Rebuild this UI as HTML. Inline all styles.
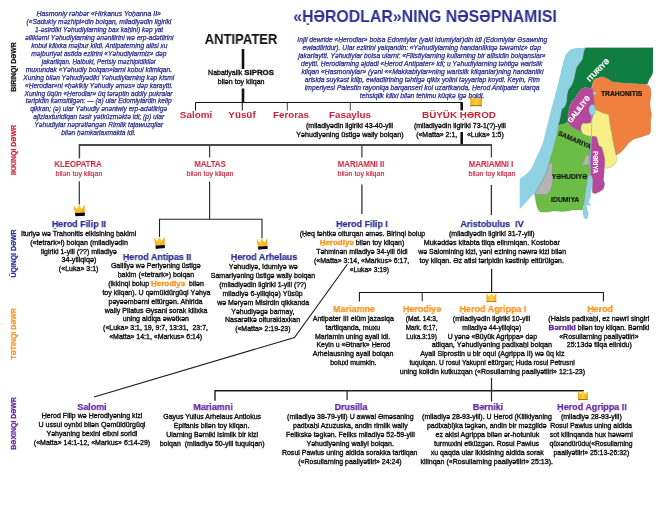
<!DOCTYPE html>
<html><head><meta charset="utf-8">
<style>
html,body{margin:0;padding:0;background:#fff;}
body{width:666px;height:507px;overflow:hidden;position:relative;font-family:"Liberation Sans",sans-serif;color:#111;}
.t{position:absolute;white-space:nowrap;text-align:center;will-change:transform;}
.o{color:#f7941d;font-weight:bold;font-size:1.14em;}
.p{color:#6424a0;font-weight:bold;font-size:1.15em;}
.lab{position:absolute;white-space:nowrap;font-weight:bold;transform-origin:0 0;will-change:transform;}
svg{position:absolute;left:0;top:0;will-change:transform;}
</style></head><body>

<svg width="666" height="507" viewBox="0 0 666 507"><defs><linearGradient id="cg" x1="0" y1="0" x2="1" y2="0"><stop offset="0" stop-color="#f0a81a"/><stop offset="0.5" stop-color="#fcc62a"/><stop offset="1" stop-color="#efa817"/></linearGradient><linearGradient id="cg2" x1="0" y1="0" x2="1" y2="0"><stop offset="0" stop-color="#f2ae12"/><stop offset="0.3" stop-color="#f9c21e"/><stop offset="0.55" stop-color="#fcd04a"/><stop offset="0.75" stop-color="#f7bd1a"/><stop offset="1" stop-color="#eda512"/></linearGradient></defs>
<polygon points="585.6,47.7 574.3,48.3 569.6,50 566,54.2 563.7,60.1 561.9,67.2 560.1,75.5 557.8,85 555.4,93.3 554,100 551.8,106.8 548.9,118.7 545.9,130.5 543,142.3 539.5,151 537,156 535,160.5 532.1,166.9 529.5,171 526.6,173.8 523,176.5 521,178 519.7,179.6 519.7,209.2 533.9,193.8 534.5,193.8 538.1,187.9 542.2,180.8 547,171.3 549.3,161.8 550.5,157.1 552.9,150 554.2,144.7 556.6,135.2 558.3,125.8 560.1,118.7 561.9,109.2 564.9,106.8 566.6,102.1 567.2,95 568.4,89.7 570.8,86.7 572.5,83.8 574.3,77.9 575.5,72 576.7,67.2 580.2,62.5 582.6,58.9 583.2,55.4 584.4,49.5 585.6,47.7" fill="#8fd2e4" stroke="none" stroke-width="0.3" stroke-linejoin="round"/>
<polygon points="585.6,47.7 653,47.7 653,72 651.8,75.5 648.8,80.2 647.7,84 644.7,84.4 636.4,83.8 624.6,83.2 612.8,82 606.8,78.5 602.1,76.7 595,79 593.3,80.8 592.1,85 591.5,88.5 588.5,87.9 585,87.3 580.8,89.7 577.9,93.3 575.5,98 572,100.9 569.6,106.8 568.4,112.8 567.8,122.2 563.7,124 558.3,125.2 560.1,118.7 561.9,109.2 564.9,106.8 566.6,102.1 567.2,95 568.4,89.7 570.8,86.7 572.5,83.8 574.3,77.9 575.5,72 576.7,67.2 580.2,62.5 582.6,58.9 583.2,55.4 584.4,49.5 585.6,47.7" fill="#0f7e40" stroke="#7a7a7a" stroke-width="0.3" stroke-linejoin="round"/>
<polygon points="580.8,89.7 585,87.3 588.5,87.9 591.5,88.5 594.2,88 594.5,99.7 594.5,106.8 593.5,115.1 590.9,122.8 587.3,123.5 582.6,123.6 581,126.5 581.4,130.5 579.1,131.1 575.5,129.3 570.8,126.4 567.8,122.2 568.4,112.8 569.6,106.8 572,100.9 575.5,98 577.9,93.3" fill="#b5489b" stroke="#7a7a7a" stroke-width="0.3" stroke-linejoin="round"/>
<polygon points="593.3,80.8 595,79 602.1,76.7 606.8,78.5 612.8,82 624.6,83.2 636.4,83.8 644.7,84.4 648.8,85.6 650.6,88.5 651.2,94.4 649.9,102.9 650.7,110.8 651.5,113.9 650.7,120.2 650.7,131.3 649.1,134.4 642,136.8 634.1,139.1 629.4,142.3 625.5,147 621.5,151.8 618.4,154.1 616,154.9 614.4,148.6 612.9,140.7 611.3,131.3 609.7,123.4 608.9,114.7 602.6,113.1 596.3,110 594.7,109.2 593.9,100 592.1,85" fill="#f0803e" stroke="#7a7a7a" stroke-width="0.3" stroke-linejoin="round"/>
<polygon points="595.5,110 596.3,110 602.6,113.1 608.9,114.7 609.7,123.4 611.3,131.3 612.9,140.7 614.4,148.6 616,154.9 616.8,158.1 616.8,161.2 614.4,164.4 610.5,167.5 605.8,168.3 604.5,166 604.7,159.5 603.5,154 601.8,147.5 598.7,145.4 597.1,139.1 596.3,136.8 593.2,136.3 591.5,136.4 589.7,136.4 586.7,135.8 582.6,134 580.8,130.5 581,126.5 582.6,123.6 587.3,123.5 590.9,122.8 592.4,118 593.5,113" fill="#f6ef86" stroke="#7a7a7a" stroke-width="0.3" stroke-linejoin="round"/>
<polygon points="558.3,125.2 563.7,124 567.8,122.2 570.8,126.4 575.5,129.3 579.1,131.1 581.4,130.5 582.6,134 586.7,135.8 589.7,136.4 591.5,136.4 590.5,147 589.9,150 589.9,166.6 589.3,170.7 590.3,175.4 589.3,175.4 587.5,180.8 586.4,187.9 585.2,195 584.2,204.7 583.1,206.8 582.6,210 577.3,210 572.1,210 567.9,211 561.5,211.6 557.3,211 552.1,211 548.9,212.1 540.5,212.1 538.4,210 536.8,205.8 535.8,201.6 534.7,194.2 534.5,193.8 538.1,187.9 542.2,180.8 547,171.3 549.3,161.8 550.5,157.1 552.9,150 554.2,144.7 556.6,135.2 558.3,125.8" fill="#6cbd45" stroke="#7a7a7a" stroke-width="0.3" stroke-linejoin="round"/>
<polygon points="549.3,163 551.7,162.8 552.6,165.4 552.3,171.3 552.9,179.6 552.3,184.3 550.5,190.2 547.5,194.4 537.5,194.7 534.5,193.8 538.1,187.9 542.2,180.8 547,171.3" fill="#b4b4b4" stroke="#7a7a7a" stroke-width="0.3" stroke-linejoin="round"/>
<polygon points="581.6,165.4 584,160.7 585.2,157.1 587,155.3 589.3,154.7 589.9,164.2 588.1,164.8" fill="#b4b4b4" stroke="#7a7a7a" stroke-width="0.3" stroke-linejoin="round"/>
<polygon points="591.5,136.4 593.2,136.3 596.3,136.8 597.1,139.1 598.7,145.4 601.8,147.5 603.5,154 604.7,159.5 604.5,166 604.1,173.7 603.5,179.6 604.7,184.3 603.5,189.1 600,191.4 595.2,193.8 592.3,192.6 592.3,178.4 590.5,174.9 589.3,170.7 589.9,166.6 589.9,150 590.5,147" fill="#b5489b" stroke="#7a7a7a" stroke-width="0.3" stroke-linejoin="round"/>
<polygon points="589.3,175.4 590.5,175.4 591.7,176 592.6,179.6 592.3,185.5 591,190 590.5,196.3 588.9,200.5 588.4,202.4 590.5,204.7 589.4,205.8 587.2,204.2 586.4,206 587.3,211 588.4,213.1 587.8,216.3 586.8,218.9 584.2,217.9 583.1,214.2 583.1,208.4 584.5,205.6 584.2,204.7 585.2,195 586.4,187.9 587.5,180.8" fill="#8fd2e4" stroke="#7aa" stroke-width="0.3" stroke-linejoin="round"/>
<polyline points="591.8,114 591.6,125 591.5,136 590.9,147 590.3,160 590,175.5" fill="none" stroke="#7cc4da" stroke-width="0.75"/>
<ellipse cx="592.2" cy="110" rx="3.2" ry="5.6" fill="#8fd2e4" stroke="#7aa" stroke-width="0.3"/>
<circle cx="594.7" cy="93.3" r="1.5" fill="#8fd2e4"/>
<line x1="243" y1="49" x2="243" y2="69" stroke="#111" stroke-width="2.6"/>
<line x1="243" y1="88.5" x2="243" y2="103" stroke="#111" stroke-width="2.6"/>
<polyline points="195.5,110.5 195.5,102.5 461.7,102.5" fill="none" stroke="#111" stroke-width="1.0" stroke-linejoin="miter"/>
<line x1="242.3" y1="102.5" x2="242.3" y2="110.5" stroke="#111" stroke-width="1.0"/>
<line x1="287.3" y1="102.5" x2="287.3" y2="110.5" stroke="#444" stroke-width="1.0"/>
<line x1="350.3" y1="102.5" x2="350.3" y2="110.5" stroke="#444" stroke-width="1.0"/>
<line x1="461.7" y1="102.2" x2="461.7" y2="110.4" stroke="#111" stroke-width="2.6"/>
<line x1="461.7" y1="132" x2="461.7" y2="145.2" stroke="#111" stroke-width="2.6"/>
<line x1="79.2" y1="145" x2="491.6" y2="145" stroke="#4a4a4a" stroke-width="2.0"/>
<line x1="79.4" y1="144" x2="79.4" y2="158.4" stroke="#444" stroke-width="1.5"/>
<line x1="209.6" y1="144" x2="209.6" y2="157.5" stroke="#444" stroke-width="1.3"/>
<line x1="361.9" y1="144" x2="361.9" y2="157.5" stroke="#444" stroke-width="1.3"/>
<line x1="491.4" y1="144" x2="491.4" y2="157.5" stroke="#444" stroke-width="1.3"/>
<line x1="79.3" y1="181.3" x2="79.3" y2="204.6" stroke="#333" stroke-width="1.2"/>
<line x1="209.6" y1="181.4" x2="209.6" y2="219.2" stroke="#222" stroke-width="1.1"/>
<polyline points="159.5,237 159.5,219.2 262,219.2 262,238.2" fill="none" stroke="#222" stroke-width="1.1" stroke-linejoin="miter"/>
<line x1="361.9" y1="184.6" x2="361.9" y2="214" stroke="#333" stroke-width="1.3"/>
<line x1="491.4" y1="185" x2="491.4" y2="215.1" stroke="#333" stroke-width="1.3"/>
<line x1="491.6" y1="268.8" x2="491.6" y2="292.5" stroke="#1a1a1a" stroke-width="1.2"/>
<polyline points="359.4,301.6 359.4,292.5 603.4,292.5 603.4,301.3" fill="none" stroke="#111" stroke-width="1.05" stroke-linejoin="miter"/>
<line x1="422.2" y1="292.5" x2="422.2" y2="301.3" stroke="#333" stroke-width="1.1"/>
<polyline points="347.4,264.2 294.5,337.5 94,397" fill="none" stroke="#1a1a1a" stroke-width="1.1" stroke-linejoin="miter"/>
<line x1="491.5" y1="377.9" x2="491.5" y2="401.6" stroke="#222" stroke-width="1.2"/>
<polyline points="215,400.7 215,390.7 583.8,390.7" fill="none" stroke="#1e1e1e" stroke-width="1.4" stroke-linejoin="miter"/>
<line x1="347.1" y1="390.7" x2="347.1" y2="400" stroke="#333" stroke-width="1.3"/>
<g transform="translate(470.2,95.7) rotate(0) scale(1.000,1.000)" opacity="1.0"><path d="M0,0 L2.9,3.9 L5.9,0 L8.9,3.9 L11.8,0 L11.8,10.4 L0,10.4 Z" fill="url(#cg2)"/><path d="M0,10.2 L11.8,10.2" stroke="#5a3a0a" stroke-width="0.8"/><path d="M0.4,10.7 L0.6,15.0 L9.0,15.0 Q11.2,13.6 11.5,10.7" fill="#fff" stroke="#cfcfcf" stroke-width="0.45"/></g>
<g transform="translate(73.4,204.9) rotate(0) scale(1.000,0.983)" opacity="1.0"><path d="M0,0.3 L3.4,4.4 L5.8,-0.1 L8.1,4.4 L11.2,-0.2 L11.4,7.8 L1.6,8.3 Z" fill="url(#cg)"/><path d="M1.6,8.3 L11.4,7.8 L11.6,11.0 L2.0,11.7 Z" fill="#0a0a0a"/><path d="M1.4,11.8 Q1.2,13.9 6.5,13.6 Q11.8,13.2 12.2,11.2" fill="#fff" stroke="#c8c8c8" stroke-width="0.5"/></g>
<g transform="translate(153.9,237.0) rotate(0) scale(0.955,1.026)" opacity="1.0"><path d="M0,0.3 L3.4,4.4 L5.8,-0.1 L8.1,4.4 L11.2,-0.2 L11.4,7.8 L1.6,8.3 Z" fill="url(#cg)"/><path d="M1.6,8.3 L11.4,7.8 L11.6,11.0 L2.0,11.7 Z" fill="#0a0a0a"/><path d="M1.4,11.8 Q1.2,13.9 6.5,13.6 Q11.8,13.2 12.2,11.2" fill="#fff" stroke="#c8c8c8" stroke-width="0.5"/></g>
<g transform="translate(256.4,238.4) rotate(0) scale(0.973,0.974)" opacity="1.0"><path d="M0,0.3 L3.4,4.4 L5.8,-0.1 L8.1,4.4 L11.2,-0.2 L11.4,7.8 L1.6,8.3 Z" fill="url(#cg)"/><path d="M1.6,8.3 L11.4,7.8 L11.6,11.0 L2.0,11.7 Z" fill="#0a0a0a"/><path d="M1.4,11.8 Q1.2,13.9 6.5,13.6 Q11.8,13.2 12.2,11.2" fill="#fff" stroke="#c8c8c8" stroke-width="0.5"/></g>
<g transform="translate(486.4,293.2) rotate(0) scale(0.839,0.846)" opacity="0.95"><path d="M0,0 L2.9,3.9 L5.9,0 L8.9,3.9 L11.8,0 L11.8,10.4 L0,10.4 Z" fill="url(#cg2)"/><path d="M0,10.2 L11.8,10.2" stroke="#5a3a0a" stroke-width="0.8"/><path d="M0.4,10.7 L0.6,15.0 L9.0,15.0 Q11.2,13.6 11.5,10.7" fill="#fff" stroke="#cfcfcf" stroke-width="0.45"/></g>
<g transform="translate(578,391) rotate(0) scale(0.831,0.846)" opacity="1.0"><path d="M0,0 L2.9,3.9 L5.9,0 L8.9,3.9 L11.8,0 L11.8,10.4 L0,10.4 Z" fill="url(#cg2)"/><path d="M0,10.2 L11.8,10.2" stroke="#5a3a0a" stroke-width="0.8"/><path d="M0.4,10.7 L0.6,15.0 L9.0,15.0 Q11.2,13.6 11.5,10.7" fill="#fff" stroke="#cfcfcf" stroke-width="0.45"/></g>
<text x="600.0" y="71.8" transform="rotate(-45.8 600.0 71.8)" font-family="Liberation Sans" font-weight="bold" font-size="7.3" fill="#fff" stroke="#fff" stroke-width="0.2" text-anchor="middle" textLength="28.5" lengthAdjust="spacingAndGlyphs">ITURIYƏ</text>
<text x="580.9" y="110.7" transform="rotate(-52.5 580.9 110.7)" font-family="Liberation Sans" font-weight="bold" font-size="7.5" fill="#fff" stroke="#fff" stroke-width="0.2" text-anchor="middle" textLength="31.5" lengthAdjust="spacingAndGlyphs">GALILIYƏ</text>
<text x="621.6" y="95.6" transform="rotate(0 621.6 95.6)" font-family="Liberation Sans" font-weight="bold" font-size="6.5" fill="#111" stroke="#111" stroke-width="0.2" text-anchor="middle" textLength="41.4" lengthAdjust="spacingAndGlyphs">TRAHONITIS</text>
<text x="573.7" y="141.9" transform="rotate(24 573.7 141.9)" font-family="Liberation Sans" font-weight="bold" font-size="6.5" fill="#1a1a1a" stroke="#1a1a1a" stroke-width="0.2" text-anchor="middle" textLength="35.5" lengthAdjust="spacingAndGlyphs">SAMARIYA</text>
<text x="593.4" y="162.2" transform="rotate(90 593.4 162.2)" font-family="Liberation Sans" font-weight="bold" font-size="8.0" fill="#fff" stroke="#fff" stroke-width="0.2" text-anchor="middle" textLength="22" lengthAdjust="spacingAndGlyphs">PƏRIYA</text>
<text x="569.45" y="178.8" transform="rotate(0 569.45 178.8)" font-family="Liberation Sans" font-weight="bold" font-size="6.6" fill="#1a1a1a" stroke="#1a1a1a" stroke-width="0.2" text-anchor="middle" textLength="35.5" lengthAdjust="spacingAndGlyphs">YƏHUDIYƏ</text>
<text x="565.2" y="202" transform="rotate(0 565.2 202)" font-family="Liberation Sans" font-weight="bold" font-size="6.6" fill="#1a1a1a" stroke="#1a1a1a" stroke-width="0.2" text-anchor="middle" textLength="28.2" lengthAdjust="spacingAndGlyphs">IDUMIYA</text>
</svg>
<div class="t" style="left:-31.00px;top:10.13px;width:260px;font-size:7.2px;line-height:7.95px;color:#252986;font-style:italic;-webkit-text-stroke:0.25px currentColor;"><span class="ln" style="display:inline-block;transform:scaleX(0.9627)">Ḥasmoniy rəhbər «Hirkanus Yoḥanna II»</span><br><span class="ln" style="display:inline-block;transform:scaleX(0.9287)">(«Sadukiy məzhipi»din bolqan, miladiyədin ilgiriki</span><br><span class="ln" style="display:inline-block;transform:scaleX(0.9157)">1-əsirdiki Yəhudiylarning bax kaḥini)  kəp yat</span><br><span class="ln" style="display:inline-block;transform:scaleX(0.9253)">əlliklərni Yəhudiylarning ənənilirini wə erp-adətlirini</span><br><span class="ln" style="display:inline-block;transform:scaleX(0.9156)">kobul kilixka məjbur kildi. Antipaterning ailisi xu</span><br><span class="ln" style="display:inline-block;transform:scaleX(0.9271)">məjburiyət astida ezlirini «Yəhudiylarmiz» dəp</span><br><span class="ln" style="display:inline-block;transform:scaleX(0.8789)">jakarliqan. Ḥalbuki, Perisiy məzhipidikilər</span><br><span class="ln" style="display:inline-block;transform:scaleX(0.9401)">muxundak  «Yəhudiy bolqan»larni kobul kilmiqan.</span><br><span class="ln" style="display:inline-block;transform:scaleX(0.9226)">Xuning bilən Yəhudiyədiki Yəhudiylarning kəp kismi</span><br><span class="ln" style="display:inline-block;transform:scaleX(0.9135)">«Ḥerodlar»ni «ḥəkikiy Yəhudiy əməs» dəp karaytti.</span><br><span class="ln" style="display:inline-block;transform:scaleX(0.9191)">Xuning üqün «Ḥerodlar» üq tərəptin addiy pukralar</span><br><span class="ln" style="display:inline-block;transform:scaleX(0.9147)">təripidin kəmsitilgən: — (a) ular Edomiylardin kelip</span><br><span class="ln" style="display:inline-block;transform:scaleX(0.9170)">qikkan; (ə) ular Yəhudiy ənəniwiy erp-adətlirigə</span><br><span class="ln" style="display:inline-block;transform:scaleX(0.9256)">ajizlaxturidiqan təsir yətküzməktə idi; (p) ular</span><br><span class="ln" style="display:inline-block;transform:scaleX(0.9237)">Yəhudiylar nəprətləngən Rimlik tajawuzqilar</span><br><span class="ln" style="display:inline-block;transform:scaleX(0.9185)">bilən ḥəmkarlaxmakta idi.</span></div>
<div class="t" style="left:225.00px;top:7.81px;width:400px;font-size:17px;line-height:18px;color:#2e3192;font-weight:bold;transform:scale(0.933,1.0);transform-origin:50% 0;"><span class="ln">«ḤƏRODLAR»NING NƏSƏPNAMISI</span></div>
<div class="t" style="left:222.00px;top:35.63px;width:400px;font-size:7.2px;line-height:7.96px;color:#252986;font-style:italic;-webkit-text-stroke:0.25px currentColor;"><span class="ln" style="display:inline-block;transform:scaleX(0.9305)">Injil dewride «Ḥerodlar» bolsa Edomiylar (yaki Idumiylar)din idi (Edomiylar Əsawning</span><br><span class="ln" style="display:inline-block;transform:scaleX(0.9342)">ewladliridur). Ular ezlirini yalqandin: «Yəhudiylarning handanlikiqə təwəmiz» dəp</span><br><span class="ln" style="display:inline-block;transform:scaleX(0.9369)">jakarlaytti. Yəhudiylar bolsa ularni: «Filistiylarning kullarning bir allisidin bolqanslar»</span><br><span class="ln" style="display:inline-block;transform:scaleX(0.9309)">deytti. Ḥerodlarning əjdadi «Ḥerod Antipater» idi; u Yəhudiylarning təhtigə warislik</span><br><span class="ln" style="display:inline-block;transform:scaleX(0.9424)">kilqan «Ḥasmoniylar» (yəni ««Makkabiylar»ning warislik kilqanlar)ning handanliki</span><br><span class="ln" style="display:inline-block;transform:scaleX(0.9312)">arisida suykəst kilip, ewladlirining təhtigə qikix yolini təyyarlap koydi. Keyin, Rim</span><br><span class="ln" style="display:inline-block;transform:scaleX(0.9379)">imperiyesi Palestin rayoniqa barqanseri kol uzartkanda, Ḥerod Antipater ularqa</span><br><span class="ln" style="display:inline-block;transform:scaleX(0.9274)">tehsiqlik kilixi bilən tehimu küqkə igə boldi.</span></div>
<div class="t" style="left:181.40px;top:32.28px;width:120px;font-size:14.2px;line-height:15px;color:#111;font-weight:bold;transform:scale(0.92,1.0);transform-origin:50% 0;"><span class="ln">ANTIPATER</span></div>
<div class="t" style="left:181.40px;top:69.02px;width:120px;font-size:7px;line-height:8.9px;color:#111;-webkit-text-stroke:0.35px currentColor;"><span class="ln">Nabatiyalik <b style="font-size:1.12em">SIPROS</b></span><br><span class="ln" style="display:inline-block;transform:scaleX(1.0084)">bilən toy kilqan</span></div>
<div class="t" style="left:156.20px;top:109.48px;width:80px;font-size:9.3px;line-height:12px;color:#c8233a;font-weight:bold;transform:scale(1.058,1.0);transform-origin:50% 0;"><span class="ln">Salomi</span></div>
<div class="t" style="left:201.70px;top:109.48px;width:80px;font-size:9.3px;line-height:12px;color:#c8233a;font-weight:bold;transform:scale(1.058,1.0);transform-origin:50% 0;"><span class="ln">Yüsüf</span></div>
<div class="t" style="left:250.70px;top:109.48px;width:80px;font-size:9.3px;line-height:12px;color:#c8233a;font-weight:bold;transform:scale(1.058,1.0);transform-origin:50% 0;"><span class="ln">Feroras</span></div>
<div class="t" style="left:309.90px;top:109.48px;width:80px;font-size:9.3px;line-height:12px;color:#c8233a;font-weight:bold;transform:scale(1.058,1.0);transform-origin:50% 0;"><span class="ln">Fasaylus</span></div>
<div class="t" style="left:399.30px;top:109.48px;width:120px;font-size:9.3px;line-height:12px;color:#c8233a;font-weight:bold;transform:scale(1.058,1.0);transform-origin:50% 0;"><span class="ln">BÜYÜK ḤƏROD</span></div>
<div class="t" style="left:270.00px;top:122.17px;width:160px;font-size:7px;line-height:8.8px;color:#111;-webkit-text-stroke:0.35px currentColor;"><span class="ln" style="display:inline-block;transform:scaleX(1.0007)">(miladiyədin ilgiriki 43-40-yili</span><br><span class="ln" style="display:inline-block;transform:scaleX(1.0127)">Yəhudiyəning üstigə waliy bolqan)</span></div>
<div class="t" style="left:380.00px;top:122.17px;width:160px;font-size:7px;line-height:8.8px;color:#111;-webkit-text-stroke:0.35px currentColor;"><span class="ln" style="display:inline-block;transform:scaleX(1.0020)">(miladiyədin ilgiriki 73-1(?)-yili</span><br><span class="ln" style="display:inline-block;transform:scaleX(0.9971)">(«Matta» 2:1, &nbsp; &nbsp; «Luka» 1:5)</span></div>
<div class="t" style="left:28.30px;top:158.88px;width:100px;font-size:9px;line-height:10px;color:#c8233a;font-weight:bold;transform:scale(0.87,1.0);transform-origin:50% 0;"><span class="ln">KLEOPATRA</span></div>
<div class="t" style="left:28.80px;top:169.05px;width:100px;font-size:6.5px;line-height:9px;color:#c8233a;transform:scale(1.09,1.0);transform-origin:50% 0;-webkit-text-stroke:0.15px currentColor;"><span class="ln">bilən toy kilqan</span></div>
<div class="t" style="left:159.60px;top:158.88px;width:100px;font-size:9px;line-height:10px;color:#c8233a;font-weight:bold;transform:scale(0.87,1.0);transform-origin:50% 0;"><span class="ln">MALTAS</span></div>
<div class="t" style="left:160.10px;top:169.05px;width:100px;font-size:6.5px;line-height:9px;color:#c8233a;transform:scale(1.09,1.0);transform-origin:50% 0;-webkit-text-stroke:0.15px currentColor;"><span class="ln">bilən toy kilqan</span></div>
<div class="t" style="left:310.80px;top:158.88px;width:100px;font-size:9px;line-height:10px;color:#c8233a;font-weight:bold;transform:scale(0.87,1.0);transform-origin:50% 0;"><span class="ln">MARIAMNI II</span></div>
<div class="t" style="left:311.30px;top:169.05px;width:100px;font-size:6.5px;line-height:9px;color:#c8233a;transform:scale(1.09,1.0);transform-origin:50% 0;-webkit-text-stroke:0.15px currentColor;"><span class="ln">bilən toy kilqan</span></div>
<div class="t" style="left:441.10px;top:158.88px;width:100px;font-size:9px;line-height:10px;color:#c8233a;font-weight:bold;transform:scale(0.87,1.0);transform-origin:50% 0;"><span class="ln">MARIAMNI I</span></div>
<div class="t" style="left:441.60px;top:169.05px;width:100px;font-size:6.5px;line-height:9px;color:#c8233a;transform:scale(1.09,1.0);transform-origin:50% 0;-webkit-text-stroke:0.15px currentColor;"><span class="ln">bilən toy kilqan</span></div>
<div class="t" style="left:19.20px;top:218.17px;width:120px;font-size:9.6px;line-height:11px;color:#2e3192;font-weight:bold;-webkit-text-stroke:0.25px currentColor;transform:scale(0.935,1.0);transform-origin:50% 0;"><span class="ln">Ḥerod Filip II</span></div>
<div class="t" style="left:-1.00px;top:230.07px;width:160px;font-size:7px;line-height:8.8px;color:#111;-webkit-text-stroke:0.35px currentColor;"><span class="ln" style="display:inline-block;transform:scaleX(1.0011)">Ituriyə wə Trahonitis elkisining ḥakimi</span><br><span class="ln" style="display:inline-block;transform:scaleX(1.0155)">(«tetrark»i) bolqan (miladiyədin</span><br><span class="ln" style="display:inline-block;transform:scaleX(1.0019)">ilgiriki 1-yili (??) miladiyə</span><br><span class="ln" style="display:inline-block;transform:scaleX(1.0366)">34-yiliqiqə)</span><br><span class="ln" style="display:inline-block;transform:scaleX(1.0073)">(«Luka» 3:1)</span></div>
<div class="t" style="left:97.00px;top:251.37px;width:120px;font-size:9.6px;line-height:11px;color:#2e3192;font-weight:bold;-webkit-text-stroke:0.25px currentColor;transform:scale(0.935,1.0);transform-origin:50% 0;"><span class="ln">Ḥerod Antipas II</span></div>
<div class="t" style="left:76.00px;top:262.42px;width:160px;font-size:7px;line-height:8.9px;color:#111;-webkit-text-stroke:0.35px currentColor;"><span class="ln" style="display:inline-block;transform:scaleX(1.0022)">Galiliyə wə Periyəning üstigə</span><br><span class="ln" style="display:inline-block;transform:scaleX(1.0096)">ḥakim («tetrark») bolqan</span><br><span class="ln">(ikkinqi bolup <span class="o">Ḥerodiyə</span> &nbsp;bilən</span><br><span class="ln" style="display:inline-block;transform:scaleX(1.0113)">toy kilqan). U qəmüldürgüqi Yəhya</span><br><span class="ln" style="display:inline-block;transform:scaleX(1.0117)">pəyəəmbərni eltürgən. Ahirida</span><br><span class="ln" style="display:inline-block;transform:scaleX(1.0055)">waliy Pilatus Əysani sorak kilixka</span><br><span class="ln" style="display:inline-block;transform:scaleX(1.0079)">uning aldiqa əwətkən</span><br><span class="ln" style="display:inline-block;transform:scaleX(0.9982)">(«Luka» 3:1, 19, 9:7, 13:31, &nbsp;23:7,</span><br><span class="ln" style="display:inline-block;transform:scaleX(0.9958)">«Matta» 14:1, «Markus» 6:14)</span></div>
<div class="t" style="left:204.00px;top:251.17px;width:120px;font-size:9.6px;line-height:11px;color:#2e3192;font-weight:bold;-webkit-text-stroke:0.25px currentColor;transform:scale(0.935,1.0);transform-origin:50% 0;"><span class="ln">Ḥerod Arhelaus</span></div>
<div class="t" style="left:183.40px;top:263.02px;width:160px;font-size:7px;line-height:8.9px;color:#111;-webkit-text-stroke:0.35px currentColor;"><span class="ln" style="display:inline-block;transform:scaleX(1.0075)">Yəhudiyə, Idumiyə wə</span><br><span class="ln" style="display:inline-block;transform:scaleX(1.0057)">Samariyəning üstigə waliy bolqan</span><br><span class="ln" style="display:inline-block;transform:scaleX(0.9939)">(miladiyədin ilgiriki 1-yili (??)</span><br><span class="ln" style="display:inline-block;transform:scaleX(1.0145)">miladiyə 6-yiliqiqə) Yüsüp</span><br><span class="ln" style="display:inline-block;transform:scaleX(0.9967)">wə Məryəm Misirdin qikkanda</span><br><span class="ln" style="display:inline-block;transform:scaleX(0.9892)">Yəhudiyəgə barmay,</span><br><span class="ln" style="display:inline-block;transform:scaleX(1.0001)">Nasarətkə olturaklaxkan</span><br><span class="ln" style="display:inline-block;transform:scaleX(0.9936)">(«Matta» 2:19-23)</span></div>
<div class="t" style="left:301.70px;top:218.17px;width:120px;font-size:9.6px;line-height:11px;color:#2e3192;font-weight:bold;-webkit-text-stroke:0.25px currentColor;transform:scale(0.935,1.0);transform-origin:50% 0;"><span class="ln">Ḥerod Filip I</span></div>
<div class="t" style="left:271.50px;top:230.42px;width:180px;font-size:7px;line-height:8.9px;color:#111;-webkit-text-stroke:0.35px currentColor;"><span class="ln" style="display:inline-block;transform:scaleX(1.0048)">(Ḥeq təhtkə olturqan əməs. Birinqi bolup</span><br><span class="ln"><span class="o">Ḥerodiyə</span> bilən toy kilqan)</span><br><span class="ln" style="display:inline-block;transform:scaleX(0.9953)">Təhminən miladiyə 34-yili öldi</span><br><span class="ln" style="display:inline-block;transform:scaleX(0.9995)">(«Matta» 3:14, «Markus» 6:17,</span></div>
<div class="t" style="left:319.20px;top:266.02px;width:100px;font-size:7px;line-height:8.9px;color:#111;-webkit-text-stroke:0.35px currentColor;"><span class="ln" style="display:inline-block;transform:scaleX(0.9615)">«Luka» 3:19)</span></div>
<div class="t" style="left:432.00px;top:218.17px;width:120px;font-size:9.6px;line-height:11px;color:#2e3192;font-weight:bold;-webkit-text-stroke:0.25px currentColor;transform:scale(0.935,1.0);transform-origin:50% 0;"><span class="ln">Aristobulus &nbsp;IV</span></div>
<div class="t" style="left:392.00px;top:230.42px;width:200px;font-size:7px;line-height:8.9px;color:#111;-webkit-text-stroke:0.35px currentColor;"><span class="ln" style="display:inline-block;transform:scaleX(1.0003)">(miladiyədin ilgiriki 31-7-yili)</span><br><span class="ln" style="display:inline-block;transform:scaleX(1.0197)">Mukəddəs kitabta tilqa elinmiqan. Kostobar</span><br><span class="ln" style="display:inline-block;transform:scaleX(0.9976)">wə Salomining kizi, yəni ezining nəwrə kizi bilən</span><br><span class="ln" style="display:inline-block;transform:scaleX(1.0076)">toy kilqan. Əz atisi təripidin kəstinip eltürülgən.</span></div>
<div class="t" style="left:303.80px;top:302.97px;width:100px;font-size:9.6px;line-height:11px;color:#f7941d;font-weight:bold;-webkit-text-stroke:0.25px currentColor;transform:scale(0.935,1.0);transform-origin:50% 0;"><span class="ln">Mariamne</span></div>
<div class="t" style="left:282.70px;top:314.97px;width:140px;font-size:7px;line-height:8.8px;color:#111;-webkit-text-stroke:0.35px currentColor;"><span class="ln" style="display:inline-block;transform:scaleX(1.0069)">Antipater III elüm jazasiqa</span><br><span class="ln" style="display:inline-block;transform:scaleX(1.0204)">tartilqanda, muxu</span><br><span class="ln" style="display:inline-block;transform:scaleX(1.0001)">Mariamin uning ayali idi.</span><br><span class="ln" style="display:inline-block;transform:scaleX(0.9877)">Keyin u «Ətnark» Ḥerod</span><br><span class="ln" style="display:inline-block;transform:scaleX(1.0053)">Arhelausning ayali bolqan</span><br><span class="ln" style="display:inline-block;transform:scaleX(0.9917)">boluxi mumkin.</span></div>
<div class="t" style="left:372.10px;top:302.97px;width:100px;font-size:9.6px;line-height:11px;color:#f7941d;font-weight:bold;-webkit-text-stroke:0.25px currentColor;transform:scale(0.935,1.0);transform-origin:50% 0;"><span class="ln">Ḥerodiyə</span></div>
<div class="t" style="left:371.60px;top:314.97px;width:100px;font-size:7px;line-height:8.8px;color:#111;-webkit-text-stroke:0.35px currentColor;"><span class="ln" style="display:inline-block;transform:scaleX(0.9591)">(Mat. 14:3,</span><br><span class="ln" style="display:inline-block;transform:scaleX(0.8996)">Mark. 6:17,</span><br><span class="ln" style="display:inline-block;transform:scaleX(0.9246)">Luka.3:19)</span></div>
<div class="t" style="left:433.00px;top:302.97px;width:120px;font-size:9.6px;line-height:11px;color:#f7941d;font-weight:bold;-webkit-text-stroke:0.25px currentColor;transform:scale(0.935,1.0);transform-origin:50% 0;"><span class="ln">Ḥerod Agrippa I</span></div>
<div class="t" style="left:371.80px;top:314.97px;width:240px;font-size:7px;line-height:8.8px;color:#111;-webkit-text-stroke:0.35px currentColor;"><span class="ln" style="display:inline-block;transform:scaleX(1.0048)">(miladiyədin ilgiriki 10-yili</span><br><span class="ln" style="display:inline-block;transform:scaleX(0.9566)">miladiyə 44-yiliqiqə)</span><br><span class="ln" style="display:inline-block;transform:scaleX(0.9858)">U yənə «Büyük Agrippa» dəp</span><br><span class="ln" style="display:inline-block;transform:scaleX(1.0203)">atilqan, Yəhudiyəning padixaḥi bolqan</span><br><span class="ln" style="display:inline-block;transform:scaleX(1.0107)">Ayali Siprostin u bir oqul (Agrippa II) wə üq kiz</span><br><span class="ln" style="display:inline-block;transform:scaleX(0.9598)">tuqulqan. U rosul Yakupni eltürgən; Huda rosul Petrusni</span><br><span class="ln" style="display:inline-block;transform:scaleX(1.0025)">uning kolidin kutkuzqan («Rosullarning paaliyətliri» 12:1-23)</span></div>
<div class="t" style="left:549.90px;top:302.97px;width:100px;font-size:9.6px;line-height:11px;color:#f7941d;font-weight:bold;-webkit-text-stroke:0.25px currentColor;transform:scale(0.935,1.0);transform-origin:50% 0;"><span class="ln">Ḥerod</span></div>
<div class="t" style="left:519.00px;top:314.97px;width:160px;font-size:7px;line-height:8.8px;color:#111;-webkit-text-stroke:0.35px currentColor;"><span class="ln" style="display:inline-block;transform:scaleX(1.0131)">(Halsis padixaḥi, ez nəwri singiri</span><br><span class="ln"><span class="p">Bərniki</span> bilən toy kilqan. Bərniki</span><br><span class="ln" style="display:inline-block;transform:scaleX(0.9942)">«Rosullarning paaliyətliri»</span><br><span class="ln" style="display:inline-block;transform:scaleX(1.0091)">25:13də tilqa elinidu)</span></div>
<div class="t" style="left:41.75px;top:401.17px;width:100px;font-size:9.6px;line-height:11px;color:#6424a0;font-weight:bold;-webkit-text-stroke:0.25px currentColor;transform:scale(0.935,1.0);transform-origin:50% 0;"><span class="ln">Salomi</span></div>
<div class="t" style="left:11.60px;top:412.42px;width:160px;font-size:7px;line-height:8.9px;color:#111;-webkit-text-stroke:0.35px currentColor;"><span class="ln" style="display:inline-block;transform:scaleX(1.0060)">Ḥerod Filip wə Ḥerodiyəning kizi</span><br><span class="ln" style="display:inline-block;transform:scaleX(1.0109)">U ussul oynixi bilən Qəmüldürgüqi</span><br><span class="ln" style="display:inline-block;transform:scaleX(1.0123)">Yəhyaning bexini elixni soridi</span><br><span class="ln" style="display:inline-block;transform:scaleX(1.0030)">(«Matta» 14:1-12, «Markus» 6:14-29)</span></div>
<div class="t" style="left:163.20px;top:401.17px;width:100px;font-size:9.6px;line-height:11px;color:#6424a0;font-weight:bold;-webkit-text-stroke:0.25px currentColor;transform:scale(0.935,1.0);transform-origin:50% 0;"><span class="ln">Mariamni</span></div>
<div class="t" style="left:132.10px;top:412.92px;width:160px;font-size:7px;line-height:8.9px;color:#111;-webkit-text-stroke:0.35px currentColor;"><span class="ln" style="display:inline-block;transform:scaleX(0.9946)">Gayus Yulius Arhelaus Antiokus</span><br><span class="ln" style="display:inline-block;transform:scaleX(1.0079)">Epifanis bilən toy kilqan.</span><br><span class="ln" style="display:inline-block;transform:scaleX(0.9969)">Ularning Bərniki isimlik bir kizi</span><br><span class="ln" style="display:inline-block;transform:scaleX(1.0059)">bolqan &nbsp;(miladiyə 50-yili tuqulqan)</span></div>
<div class="t" style="left:300.90px;top:401.17px;width:100px;font-size:9.6px;line-height:11px;color:#6424a0;font-weight:bold;-webkit-text-stroke:0.25px currentColor;transform:scale(0.935,1.0);transform-origin:50% 0;"><span class="ln">Drusilla</span></div>
<div class="t" style="left:259.80px;top:412.92px;width:180px;font-size:7px;line-height:8.9px;color:#111;-webkit-text-stroke:0.35px currentColor;"><span class="ln" style="display:inline-block;transform:scaleX(0.9988)">(miladiyə 38-79-yili) U awwal Əməsaning</span><br><span class="ln" style="display:inline-block;transform:scaleX(0.9984)">padixaḥi Azuzuska, andin rimlik waliy</span><br><span class="ln" style="display:inline-block;transform:scaleX(0.9986)">Felikskə təgkən. Feliks miladiyə 52-59-yili</span><br><span class="ln" style="display:inline-block;transform:scaleX(1.0138)">Yəhudiyəning waliyi bolqan.</span><br><span class="ln" style="display:inline-block;transform:scaleX(1.0013)">Rosul Pawlus uning aldida sorakka tartilqan</span><br><span class="ln" style="display:inline-block;transform:scaleX(0.9943)">(«Rosullarning paaliyətliri» 24:24)</span></div>
<div class="t" style="left:437.70px;top:401.17px;width:100px;font-size:9.6px;line-height:11px;color:#6424a0;font-weight:bold;-webkit-text-stroke:0.25px currentColor;transform:scale(0.935,1.0);transform-origin:50% 0;"><span class="ln">Bərniki</span></div>
<div class="t" style="left:397.20px;top:412.92px;width:180px;font-size:7px;line-height:8.9px;color:#111;-webkit-text-stroke:0.35px currentColor;"><span class="ln" style="display:inline-block;transform:scaleX(0.9982)">(miladiyə 28-93-yili). U Ḥerod (Kilikiyaning</span><br><span class="ln" style="display:inline-block;transform:scaleX(1.0011)">padixaḥi)ka təgkən, andin bir məzgildə</span><br><span class="ln" style="display:inline-block;transform:scaleX(1.0104)">ez akisi Agrippa bilən ər-hotunluk</span><br><span class="ln" style="display:inline-block;transform:scaleX(1.0004)">turmuxini etküzgən. Rosul Pawlus</span><br><span class="ln" style="display:inline-block;transform:scaleX(1.0056)">xu qaqda ular ikkisining aldida sorak</span><br><span class="ln" style="display:inline-block;transform:scaleX(1.0074)">kilinqan («Rosullarning paaliyətliri» 25:13).</span></div>
<div class="t" style="left:531.50px;top:401.17px;width:120px;font-size:9.6px;line-height:11px;color:#6424a0;font-weight:bold;-webkit-text-stroke:0.25px currentColor;transform:scale(0.935,1.0);transform-origin:50% 0;"><span class="ln">Ḥerod Agrippa II</span></div>
<div class="t" style="left:520.70px;top:412.92px;width:140px;font-size:7px;line-height:8.9px;color:#111;-webkit-text-stroke:0.35px currentColor;"><span class="ln" style="display:inline-block;transform:scaleX(1.0019)">(miladiyə 28-93-yili)</span><br><span class="ln" style="display:inline-block;transform:scaleX(0.9962)">Rosul Pawlus uning aldida</span><br><span class="ln" style="display:inline-block;transform:scaleX(1.0061)">sot kilinqanda hux həwərni</span><br><span class="ln" style="display:inline-block;transform:scaleX(0.9649)">qüxəndürüdu(«Rosullarning</span><br><span class="ln" style="display:inline-block;transform:scaleX(0.9886)">paaliyətliri» 25:13-26:32)</span></div>
<svg width="666" height="507" viewBox="0 0 666 507" style="position:absolute;left:0;top:0"><text x="16.2" y="67.00" transform="rotate(-90 16.2 67.00)" font-family="Liberation Sans" font-weight="bold" font-size="7.4" fill="#111" stroke="#111" stroke-width="0.25" text-anchor="middle" textLength="49.4" lengthAdjust="spacingAndGlyphs">BIRINQI DƏWR</text><text x="16.2" y="150.00" transform="rotate(-90 16.2 150.00)" font-family="Liberation Sans" font-weight="bold" font-size="7.4" fill="#c8233a" stroke="#c8233a" stroke-width="0.25" text-anchor="middle" textLength="50.0" lengthAdjust="spacingAndGlyphs">IKKINQI DƏWR</text><text x="16.2" y="253.55" transform="rotate(-90 16.2 253.55)" font-family="Liberation Sans" font-weight="bold" font-size="7.4" fill="#2e3192" stroke="#2e3192" stroke-width="0.25" text-anchor="middle" textLength="48.1" lengthAdjust="spacingAndGlyphs">ÜQINQI DƏWR</text><text x="16.2" y="333.85" transform="rotate(-90 16.2 333.85)" font-family="Liberation Sans" font-weight="bold" font-size="7.4" fill="#f7941d" stroke="#f7941d" stroke-width="0.25" text-anchor="middle" textLength="51.3" lengthAdjust="spacingAndGlyphs">TƏTINQI DƏWR</text><text x="16.2" y="423.40" transform="rotate(-90 16.2 423.40)" font-family="Liberation Sans" font-weight="bold" font-size="7.4" fill="#6424a0" stroke="#6424a0" stroke-width="0.25" text-anchor="middle" textLength="52.6" lengthAdjust="spacingAndGlyphs">BƏXINQI DƏWR</text></svg>
</body></html>
